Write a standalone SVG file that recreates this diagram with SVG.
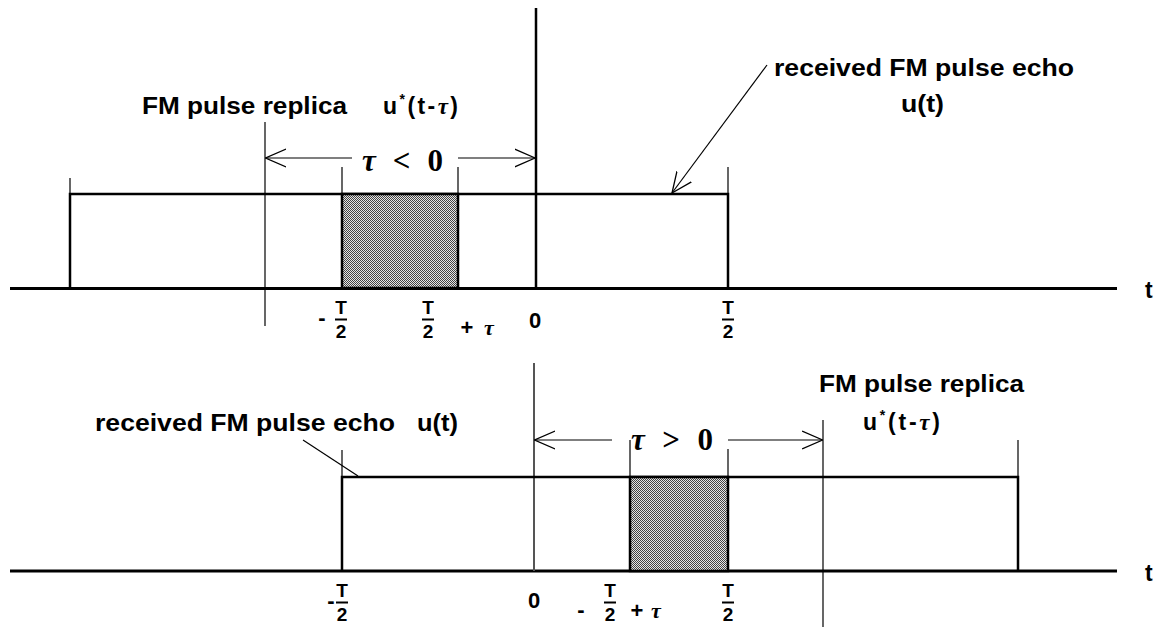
<svg xmlns="http://www.w3.org/2000/svg" width="1167" height="630" viewBox="0 0 1167 630">
<style>
.axis{stroke:#000;stroke-width:3;fill:none}
.pulse{stroke:#000;stroke-width:2.5;fill:none}
.thin{stroke:#000;stroke-width:1.2;fill:none}
.lbl{font-family:"Liberation Sans",Arial,sans-serif;font-weight:bold;font-size:23px;fill:#000}
.frac{font-family:"Liberation Sans",Arial,sans-serif;font-weight:bold;font-size:19px;fill:#000;text-anchor:middle}
.big{font-size:22px}
.cmp{font-family:"Liberation Serif","Times New Roman",serif;font-weight:bold;font-size:31px;fill:#000}
.gk{font-family:"Liberation Serif","Times New Roman",serif;font-style:italic;font-weight:bold}
.bar{stroke:#000;stroke-width:2}
</style>
<defs>
<pattern id="dots" width="2" height="2" patternUnits="userSpaceOnUse">
<rect width="2" height="2" fill="#e6e6e6"/>
<rect width="1" height="1" fill="#444"/>
<rect x="1" y="1" width="1" height="1" fill="#444"/>
</pattern>
<marker id="ah" viewBox="0 0 21 20" markerWidth="21" markerHeight="20" refX="20.5" refY="10" orient="auto-start-reverse" markerUnits="userSpaceOnUse">
<path d="M0,1 L20.5,10 L0,19" fill="none" stroke="#000" stroke-width="1.3"/>
</marker>
</defs>

<g id="top-panel">
<g id="top-axis">
<line class="axis" x1="10" y1="288.5" x2="1117" y2="288.5"/>
<line class="pulse" x1="536" y1="8" x2="536" y2="288"/>
<text class="lbl" x="1145" y="298">t</text>
</g>
<g id="top-echo">
<path class="pulse" d="M70,288 V194 H728 V288"/>
<rect x="342" y="194" width="116" height="94" fill="url(#dots)" stroke="#000" stroke-width="2.5"/>
</g>
<g id="top-ticks">
<line class="thin" x1="70" y1="178" x2="70" y2="194"/>
<line class="thin" x1="342" y1="167" x2="342" y2="193"/>
<line class="thin" x1="458" y1="167" x2="458" y2="193"/>
<line class="thin" x1="728" y1="167" x2="728" y2="193"/>
<line class="thin" x1="265" y1="122" x2="265" y2="326"/>
</g>
<g id="top-labels">
<text class="lbl" x="142" y="114" textLength="205" lengthAdjust="spacingAndGlyphs">FM pulse replica</text>
<text class="lbl" x="383" y="114" textLength="75" lengthAdjust="spacing">u<tspan style="font-size:14px" dy="-10">*</tspan><tspan dy="10">(t-</tspan><tspan class="gk">τ</tspan>)</text>
<text class="lbl" x="774" y="76" textLength="300" lengthAdjust="spacingAndGlyphs">received FM pulse echo</text>
<text class="lbl" x="901" y="112" textLength="43" lengthAdjust="spacingAndGlyphs">u(t)</text>
<text class="cmp" x="362" y="171" textLength="81" lengthAdjust="spacing"><tspan class="gk">τ</tspan> &lt; 0</text>
<text class="frac big" x="322" y="325">-</text>
<text class="frac" x="341" y="314">T</text>
<line class="bar" x1="335" y1="319.5" x2="347" y2="319.5"/>
<text class="frac" x="341" y="338">2</text>
<text class="frac" x="428" y="314">T</text>
<line class="bar" x1="422" y1="319.5" x2="434" y2="319.5"/>
<text class="frac" x="428" y="338">2</text>
<text class="frac big" x="467" y="335">+</text>
<text class="frac gk big" x="489" y="335">τ</text>
<text class="frac big" x="535" y="328">0</text>
<text class="frac" x="728" y="314">T</text>
<line class="bar" x1="722" y1="319.5" x2="734" y2="319.5"/>
<text class="frac" x="728" y="338">2</text>
</g>
</g>

<g id="bottom-panel">
<g id="bottom-axis">
<line class="axis" x1="10" y1="571" x2="1117" y2="571"/>
<line x1="534" y1="363" x2="534" y2="571" stroke="#555" stroke-width="2"/>
<text class="lbl" x="1145" y="581">t</text>
</g>
<g id="bottom-pulses">
<path class="pulse" d="M342,571 V477 H1018 V571"/>
<rect x="630" y="477" width="98" height="94" fill="url(#dots)" stroke="#000" stroke-width="2.5"/>
</g>
<g id="bottom-ticks">
<line class="thin" x1="342" y1="450" x2="342" y2="477"/>
<line class="thin" x1="630" y1="440" x2="630" y2="476"/>
<line class="thin" x1="728" y1="449" x2="728" y2="476"/>
<line class="thin" x1="1018" y1="440" x2="1018" y2="477"/>
<line class="thin" x1="823" y1="420" x2="823" y2="627"/>
</g>
<g id="bottom-labels">
<text class="lbl" x="95" y="431" textLength="300" lengthAdjust="spacingAndGlyphs">received FM pulse echo</text>
<text class="lbl" x="417" y="431" textLength="41" lengthAdjust="spacingAndGlyphs">u(t)</text>
<text class="lbl" x="819" y="392" textLength="205" lengthAdjust="spacingAndGlyphs">FM pulse replica</text>
<text class="lbl" x="863" y="430" textLength="77" lengthAdjust="spacing">u<tspan style="font-size:14px" dy="-10">*</tspan><tspan dy="10">(t-</tspan><tspan class="gk">τ</tspan>)</text>
<text class="cmp" x="631" y="450" textLength="82" lengthAdjust="spacing"><tspan class="gk">τ</tspan> &gt; 0</text>
<text class="frac big" x="331" y="608">-</text>
<text class="frac" x="342" y="597">T</text>
<line class="bar" x1="336" y1="602.5" x2="348" y2="602.5"/>
<text class="frac" x="342" y="621">2</text>
<text class="frac big" x="534" y="608">0</text>
<text class="frac big" x="581" y="617">-</text>
<text class="frac" x="610" y="597">T</text>
<line class="bar" x1="604" y1="602.5" x2="616" y2="602.5"/>
<text class="frac" x="610" y="621">2</text>
<text class="frac big" x="637" y="618">+</text>
<text class="frac gk big" x="656" y="618">τ</text>
<text class="frac" x="728" y="597">T</text>
<line class="bar" x1="722" y1="602.5" x2="734" y2="602.5"/>
<text class="frac" x="728" y="621">2</text>
</g>
</g>

<g id="connectors">
<line class="thin" x1="352" y1="158" x2="265.6" y2="158" marker-end="url(#ah)"/>
<line class="thin" x1="458" y1="158" x2="535" y2="158" marker-end="url(#ah)"/>
<line class="thin" x1="612" y1="440" x2="534.6" y2="440" marker-end="url(#ah)"/>
<line class="thin" x1="728" y1="440" x2="822.6" y2="440" marker-end="url(#ah)"/>
<line class="thin" x1="767" y1="65" x2="672" y2="193" marker-end="url(#ah)"/>
<line class="thin" x1="303" y1="440" x2="358" y2="476"/>
</g>
</svg>
